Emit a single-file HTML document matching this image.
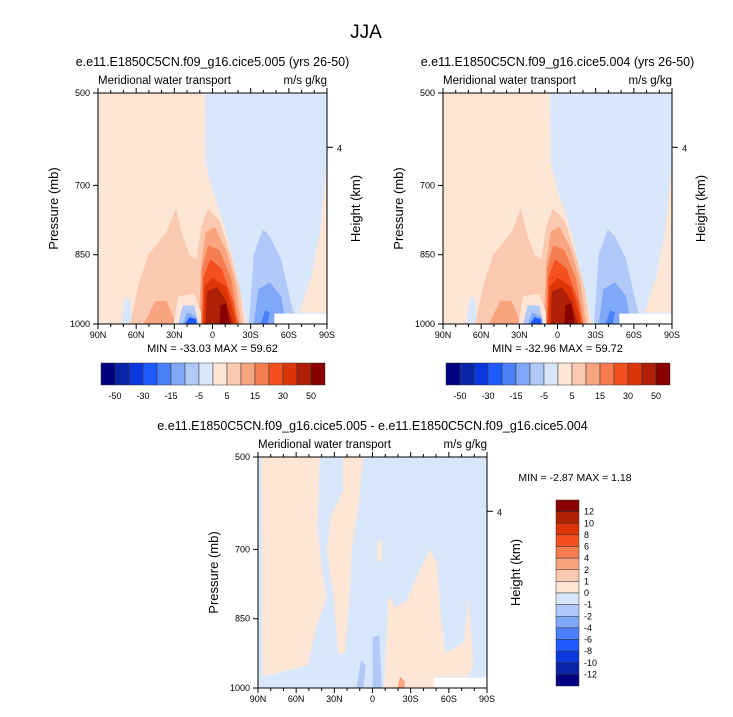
<!DOCTYPE html>
<html><head><meta charset="utf-8"><style>
body{margin:0;background:#fff;}
svg text{font-family:"Liberation Sans",Arial,sans-serif;fill:#000;}
</style></head><body>
<svg id="fig" width="733" height="712" xmlns="http://www.w3.org/2000/svg">
<text x="366" y="38" font-size="19" text-anchor="middle">JJA</text>
</svg>
<script>
const latLabels=["90N","60N","30N","0","30S","60S","90S"];
const presLabels=["500","700","850","1000"];
const presFrac=[0,0.40,0.70,1];
const heightLabels=["4"];
const heightFrac=[0.235];
const colors=["#000080","#0a24a8","#0a38dc","#1e5aff","#4a80f8","#80a8f8","#b0c9f8","#d8e7fb","#fde6d6","#fbc9b0","#f8a47f","#f57d50","#f4511e","#dc3508","#b02006","#8a0000"];
const topLevels=["-50","-30","-15","-5","5","15","30","50"];
const diffLevels=["12","10","8","6","4","2","1","0","-1","-2","-4","-6","-8","-10","-12"];
const panels=[
 {x:98,y:93,title:"e.e11.E1850C5CN.f09_g16.cice5.005 (yrs 26-50)",min:"-33.03",max:"59.62",kind:"full"},
 {x:443,y:93,title:"e.e11.E1850C5CN.f09_g16.cice5.004 (yrs 26-50)",min:"-32.96",max:"59.72",kind:"full"},
 {x:258,y:457,title:"e.e11.E1850C5CN.f09_g16.cice5.005 - e.e11.E1850C5CN.f09_g16.cice5.004",min:"-2.87",max:"1.18",kind:"diff"}
];
const fullShapes=[
 [8,[[0,0],[0.467,0],[0.47,0.3],[0.5,0.42],[0.56,0.6],[0.62,0.85],[0.65,1],[0,1]]],
 [8,[[0.97,0.6],[1,0.3],[1,0.95],[0.88,0.95],[0.93,0.8]]],
 [7,[[0.1,1],[0.12,0.88],[0.14,0.9],[0.15,1]]],
 [9,[[0.14,1],[0.18,0.82],[0.22,0.7],[0.3,0.6],[0.34,0.5],[0.37,0.62],[0.4,0.7],[0.43,0.72],[0.45,0.58],[0.48,0.5],[0.53,0.55],[0.58,0.7],[0.62,0.85],[0.64,1]]],
 [10,[[0.2,1],[0.25,0.9],[0.3,0.9],[0.34,1]]],
 [10,[[0.44,1],[0.45,0.75],[0.47,0.6],[0.51,0.58],[0.56,0.68],[0.6,0.82],[0.625,1]]],
 [11,[[0.45,1],[0.455,0.76],[0.48,0.66],[0.53,0.68],[0.58,0.8],[0.615,1]]],
 [12,[[0.455,1],[0.46,0.8],[0.49,0.72],[0.54,0.76],[0.59,0.9],[0.61,1]]],
 [13,[[0.46,1],[0.465,0.84],[0.5,0.8],[0.56,0.84],[0.6,0.98],[0.6,1]]],
 [14,[[0.47,1],[0.475,0.86],[0.52,0.84],[0.56,0.9],[0.59,1]]],
 [15,[[0.53,1],[0.535,0.92],[0.56,0.91],[0.575,1]]],
 [8,[[0.33,1],[0.35,0.88],[0.42,0.87],[0.45,0.95],[0.45,1]]],
 [6,[[0.35,1],[0.37,0.92],[0.42,0.92],[0.44,1]]],
 [5,[[0.37,1],[0.39,0.95],[0.43,0.97],[0.43,1]]],
 [3,[[0.38,1],[0.4,0.97],[0.43,0.98],[0.43,1]]],
 [6,[[0.66,1],[0.68,0.7],[0.72,0.59],[0.75,0.62],[0.8,0.72],[0.84,0.9],[0.87,1]]],
 [5,[[0.68,1],[0.7,0.85],[0.75,0.82],[0.8,0.88],[0.82,1]]],
 [4,[[0.71,1],[0.73,0.94],[0.75,0.95],[0.74,1]]]
];
const diffShapes=[
 [8,[[0.015,0],[0.27,0],[0.26,0.3],[0.28,0.5],[0.3,0.6],[0.25,0.75],[0.22,0.9],[0.15,0.92],[0.02,0.95]]],
 [8,[[0.37,0],[0.46,0],[0.44,0.2],[0.41,0.4],[0.4,0.6],[0.38,0.85],[0.35,0.85],[0.33,0.6],[0.3,0.4],[0.32,0.25],[0.37,0.15]]],
 [8,[[0.55,1],[0.57,0.6],[0.6,0.65],[0.65,0.62],[0.7,0.5],[0.75,0.4],[0.78,0.45],[0.8,0.7],[0.82,0.85],[0.9,0.8],[0.92,0.6],[0.94,0.9],[0.92,0.95],[0.77,0.95],[0.78,1]]],
 [8,[[0.52,0.38],[0.54,0.35],[0.54,0.45],[0.52,0.45]]],
 [6,[[0.5,1],[0.5,0.78],[0.53,0.77],[0.54,1]]],
 [6,[[0.43,1],[0.45,0.88],[0.47,0.9],[0.46,1]]],
 [10,[[0.61,1],[0.62,0.95],[0.64,0.97],[0.64,1]]]
];
const NS="http://www.w3.org/2000/svg";
const svg=document.getElementById('fig');
function mk(tag,attrs,parent){const e=document.createElementNS(NS,tag);for(const k in attrs)e.setAttribute(k,attrs[k]);(parent||svg).appendChild(e);return e;}
function txt(x,y,s,size,anchor,parent){const t=mk('text',{x:x,y:y,'font-size':size,'text-anchor':anchor||'start'},parent);t.textContent=s;return t;}
const W=229,H=231;
panels.forEach((p,pi)=>{
 const g=mk('g',{});
 
 
 const sx=f=>p.x+f*W, sy=f=>p.y+f*H;
 const bg=mk('rect',{x:p.x,y:p.y,width:W,height:H,fill:colors[7]},g);
 
 
 const shapes=p.kind==='full'?fullShapes:diffShapes;
 shapes.forEach(([c,pts])=>{
  const poly=mk('polygon',{points:pts.map(q=>sx(q[0]).toFixed(1)+','+sy(q[1]).toFixed(1)).join(' '),fill:colors[c]},g);
  
  
 });
 const wr=mk('rect',{x:sx(0.77),y:sy(0.955),width:W*0.23,height:H*0.045+1,fill:'#fff'},g);
 
 
 mk('rect',{x:p.x,y:p.y,width:W,height:H,fill:'none',stroke:'#000','stroke-width':1},g);
 for(let i=0;i<=18;i++){const x=sx(i/18),len=i%3===0?5:3;
  mk('line',{x1:x,y1:p.y+H,x2:x,y2:p.y+H+len,stroke:'#000'},g);
  mk('line',{x1:x,y1:p.y,x2:x,y2:p.y-len,stroke:'#000'},g);}
 latLabels.forEach((l,i)=>{const t=txt(sx(i/6),p.y+H+14,l,9,'middle',g);});
 presLabels.forEach((l,i)=>{const y=sy(presFrac[i]);mk('line',{x1:p.x-5,y1:y,x2:p.x,y2:y,stroke:'#000'},g);
  const t=txt(p.x-8,y+3,l,9,'end',g);});
 heightLabels.forEach((l,i)=>{const y=sy(heightFrac[i]);mk('line',{x1:p.x+W,y1:y,x2:p.x+W+6,y2:y,stroke:'#000'},g);
  const t=txt(p.x+W+10,y+4,l,9,'start',g);});
 let t=txt(p.x+W/2,p.y-27,p.title,12.5,'middle',g);
 t=txt(p.x,p.y-9,'Meridional water transport',11.5,'start',g);
 t=txt(p.x+W,p.y-9,'m/s g/kg',11.5,'end',g);
 t=txt(p.x-40,p.y+H/2,'Pressure (mb)',13,'middle',g);t.setAttribute('transform','rotate(-90 '+(p.x-40)+' '+(p.y+H/2)+')');
 t=txt(p.x+W+33,p.y+H/2,'Height (km)',13,'middle',g);t.setAttribute('transform','rotate(-90 '+(p.x+W+33)+' '+(p.y+H/2)+')');
 if(p.kind==='full'){
  t=txt(p.x+W/2,p.y+H+28,'MIN = '+p.min+'  MAX =  '+p.max,11,'middle',g);
  const cx=p.x+3,cw=224/16,cy=363;
  colors.forEach((c,i)=>{const r=mk('rect',{x:cx+i*cw,y:cy,width:cw,height:22,fill:c,stroke:'#333','stroke-width':0.5},g);});
  topLevels.forEach((l,i)=>{const tt=txt(cx+cw*(i*2+1),cy+36,l,9,'middle',g);});
 } else {
  t=txt(575,481,'MIN =  '+p.min+'  MAX =   '+p.max,10.5,'middle',g);
  const cx=556,ch=186/16,cy=500;
  colors.slice().reverse().forEach((c,i)=>{const r=mk('rect',{x:cx,y:cy+i*ch,width:23,height:ch,fill:c,stroke:'#333','stroke-width':0.5},g);});
  diffLevels.forEach((l,i)=>{const tt=txt(cx+28,cy+ch*(i+1)+3,l,9,'start',g);});
 }
});
</script>
</body></html>
